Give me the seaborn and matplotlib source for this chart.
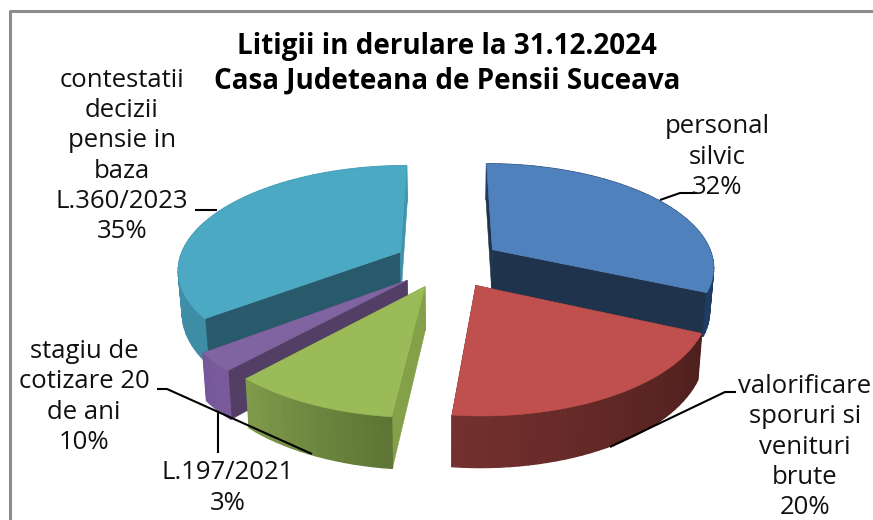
import numpy as np
import seaborn as sns
import matplotlib.pyplot as plt
from matplotlib.colors import to_rgb

sns.set_style("white")
plt.rcParams['font.family'] = ['Open Sans', 'DejaVu Sans']

## data
categories = ["personal\nsilvic", "valorificare\nsporuri si\nvenituri\nbrute",
              "stagiu de\ncotizare 20\nde ani", "L.197/2021",
              "contestatii\ndecizii\npensie in\nbaza\nL.360/2023"]
# shares, the labels show them rounded
shares = [31.7, 20.0, 10.1, 2.8, 35.4]
percent_labels = ["32%", "20%", "10%", "3%", "35%"]
title = "Litigii in derulare la 31.12.2024\nCasa Judeteana de Pensii Suceava"

top_colors = sns.color_palette(["#4F81BD", "#C0504D", "#9BBB59", "#8064A2", "#4BA9C4"])
start_wall = ["#1F334D", "#4E1F1D", "#84A048", "#533F66", "#285A6B"]
end_wall = ["#1F334D", "#4E1F1D", "#5E7535", "#533F66", "#3F93AC"]
outer_from = ["#1F3C63", "#4E1F1D", "#5E7535", "#7A5A9A", "#3E8CA5"]
outer_to = ["#1F3C63", "#73302E", "#7F9A4A", "#75589A", "#4398B0"]

## perspective of the pie
xc, half_w = 448, 222
horizon, depth, k = -406, 669, 0.1537
wall_h = 42
explode = 0.243


def project(ang, r, off, bottom=False):
    # angles in degrees, clockwise from the top of the pie
    a = np.radians(ang)
    X = r * np.sin(a) + off[0]
    Y = r * np.cos(a) + off[1]
    d = 1 + k * Y
    w = half_w * 0.985 if bottom else half_w
    return xc + w * X / d, horizon + (depth + (wall_h if bottom else 0)) / d


fig = plt.figure(figsize=(8.73, 5.2), dpi=100)
ax = fig.add_axes([0, 0, 1, 1])
ax.set_xlim(0, 873)
ax.set_ylim(520, 0)
ax.axis("off")

# chart frame
ax.plot([873, 10, 10], [11, 11, 520], color="#8C8C8C", lw=2.2)

edges = np.cumsum([0] + shares) * 3.6
bisect = (edges[:-1] + edges[1:]) / 2
offsets = [(explode * np.sin(np.radians(b)), explode * np.cos(np.radians(b))) for b in bisect]


def fill(x, y, color, z, lw=0.4):
    ax.fill(x, y, facecolor=color, edgecolor=color, lw=lw, zorder=z)


order = [0, 4, 3, 2, 1]
for z, i in enumerate(order):
    a0, a1 = edges[i], edges[i + 1]
    off = offsets[i]
    base = 10 + z * 5
    # radial walls, the one facing us goes last
    walls = [(a0, start_wall[i]), (a1, end_wall[i])]
    if i == 2:
        walls = walls[::-1]
    for ang, col in walls:
        tx, ty = zip(project(ang, 0, off), project(ang, 1, off))
        bx, by = zip(project(ang, 0, off, True), project(ang, 1, off, True))
        fill(list(tx) + list(bx)[::-1], list(ty) + list(by)[::-1], col, base)
    # outer wall, in shaded strips
    angs = np.linspace(a0, a1, max(int((a1 - a0) / 2), 6))
    c0, c1 = np.array(to_rgb(outer_from[i])), np.array(to_rgb(outer_to[i]))
    for j in range(len(angs) - 1):
        t = j / (len(angs) - 2)
        pair = angs[j:j + 2]
        tx, ty = project(pair, 1, off)
        bx, by = project(pair, 1, off, True)
        fill(list(tx) + list(bx)[::-1], list(ty) + list(by)[::-1], tuple(c0 + (c1 - c0) * t), base + 1, lw=1.0)
    # top face
    angs = np.linspace(a0, a1, 80)
    x, y = project(angs, 1, off)
    ax_, ay_ = project(a0, 0, off)
    fill(np.r_[ax_, x], np.r_[ay_, y], top_colors[i], base + 2)

# leader lines
lines = [([660, 680, 697], [200, 193, 193]),
         ([736, 725, 610], [392, 392, 447]),
         ([157, 167, 312], [389, 389, 454]),
         ([218, 218], [412, 453]),
         ([195, 217], [210, 210])]
for lx, ly in lines:
    ax.plot(lx, ly, color="black", lw=1.5, zorder=60, solid_capstyle="butt")

# labels
label_pos = [(717, 157), (805, 447), (84, 397), (228, 488), (122, 156)]
for name, pct, (px, py) in zip(categories, percent_labels, label_pos):
    ax.text(px, py, f"{name}\n{pct}", ha="center", va="center", fontsize=18.5,
            linespacing=1.265, color="#111111", zorder=70)

ax.text(447, 64, title, ha="center", va="center", fontsize=20, fontweight="bold",
        linespacing=1.24, color="black", zorder=70)

fig.savefig("out.png", dpi=100)
